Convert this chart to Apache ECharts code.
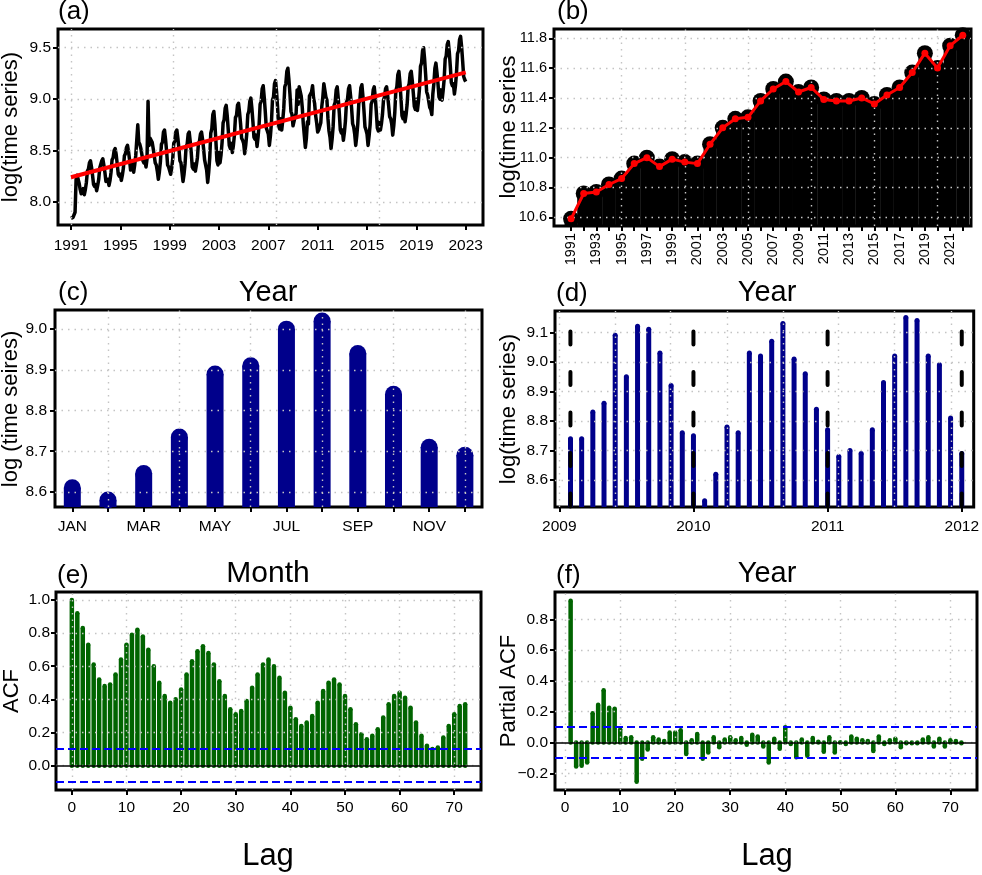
<!DOCTYPE html>
<html>
<head>
<meta charset="utf-8">
<script src="https://cdn.jsdelivr.net/npm/echarts@6.0.0/dist/echarts.min.js"></script>
<style>
  html, body { margin: 0; padding: 0; background: #fff; }
  #main { width: 982px; height: 875px; }
</style>
</head>
<body>
<div id="main"></div>
<script>
// (a) monthly log series, Jan 1991 .. Jan 2023
var monthlyStart = 1991;
var monthlyLog = [
  7.84, 7.84, 7.85, 7.86, 7.90, 8.22, 8.26, 8.25, 8.18, 8.12, 8.08, 8.10,
  8.13, 8.07, 8.12, 8.19, 8.30, 8.32, 8.38, 8.40, 8.34, 8.26, 8.17, 8.15,
  8.17, 8.11, 8.16, 8.22, 8.33, 8.34, 8.40, 8.42, 8.36, 8.29, 8.20, 8.19,
  8.22, 8.16, 8.21, 8.29, 8.41, 8.43, 8.50, 8.52, 8.46, 8.37, 8.27, 8.25,
  8.27, 8.21, 8.26, 8.33, 8.45, 8.47, 8.53, 8.55, 8.49, 8.41, 8.31, 8.30,
  8.37, 8.29, 8.36, 8.45, 8.60, 8.75, 8.58, 8.56, 8.52, 8.46, 8.40, 8.38,
  8.40, 8.34, 8.42, 8.98, 8.55, 8.62, 8.60, 8.58, 8.52, 8.45, 8.38, 8.36,
  8.30, 8.22, 8.29, 8.39, 8.56, 8.58, 8.68, 8.70, 8.61, 8.50, 8.36, 8.34,
  8.35, 8.27, 8.33, 8.42, 8.57, 8.59, 8.68, 8.70, 8.62, 8.52, 8.40, 8.38,
  8.29, 8.20, 8.27, 8.37, 8.54, 8.56, 8.66, 8.68, 8.59, 8.48, 8.34, 8.32,
  8.37, 8.30, 8.36, 8.43, 8.57, 8.59, 8.66, 8.68, 8.61, 8.52, 8.41, 8.40,
  8.31, 8.19, 8.29, 8.43, 8.67, 8.71, 8.85, 8.88, 8.76, 8.59, 8.40, 8.36,
  8.48, 8.38, 8.46, 8.58, 8.77, 8.80, 8.91, 8.94, 8.84, 8.70, 8.55, 8.52,
  8.57, 8.48, 8.55, 8.65, 8.82, 8.84, 8.94, 8.96, 8.87, 8.76, 8.62, 8.60,
  8.57, 8.47, 8.55, 8.66, 8.85, 8.88, 8.98, 9.01, 8.91, 8.78, 8.63, 8.61,
  8.65, 8.54, 8.63, 8.75, 8.95, 8.98, 9.10, 9.13, 9.02, 8.88, 8.72, 8.69,
  8.66, 8.55, 8.64, 8.77, 8.99, 9.02, 9.15, 9.18, 9.07, 8.92, 8.74, 8.71,
  8.81, 8.70, 8.79, 8.91, 9.12, 9.15, 9.27, 9.30, 9.19, 9.05, 8.88, 8.85,
  8.74, 8.74, 8.83, 8.86, 9.09, 8.95, 9.12, 9.11, 9.03, 8.92, 8.76, 8.75,
  8.53, 8.62, 8.78, 8.76, 9.03, 9.02, 9.07, 9.13, 9.01, 8.96, 8.84, 8.77,
  8.68, 8.70, 8.69, 8.77, 8.93, 9.02, 9.15, 9.14, 9.02, 8.99, 8.81, 8.69,
  8.63, 8.52, 8.61, 8.73, 8.94, 8.97, 9.09, 9.12, 9.01, 8.87, 8.70, 8.67,
  8.70, 8.60, 8.68, 8.79, 8.97, 9.00, 9.10, 9.13, 9.03, 8.91, 8.76, 8.73,
  8.66, 8.55, 8.64, 8.76, 8.96, 8.99, 9.11, 9.14, 9.03, 8.89, 8.73, 8.70,
  8.66, 8.55, 8.64, 8.75, 8.95, 8.98, 9.09, 9.12, 9.02, 8.88, 8.72, 8.69,
  8.78, 8.70, 8.76, 8.85, 8.99, 9.02, 9.10, 9.12, 9.04, 8.94, 8.83, 8.81,
  8.76, 8.65, 8.74, 8.87, 9.08, 9.12, 9.24, 9.27, 9.16, 9.01, 8.84, 8.81,
  8.87, 8.78, 8.85, 8.95, 9.12, 9.15, 9.25, 9.27, 9.18, 9.06, 8.93, 8.90,
  9.00, 8.89, 8.98, 9.10, 9.32, 9.35, 9.47, 9.50, 9.39, 9.24, 9.07, 9.04,
  8.98, 8.92, 8.90, 8.85, 9.05, 9.15, 9.30, 9.35, 9.26, 9.15, 9.02, 9.00,
  9.09, 8.99, 9.08, 9.19, 9.39, 9.42, 9.53, 9.56, 9.46, 9.32, 9.16, 9.13,
  9.15, 9.05, 9.13, 9.25, 9.44, 9.47, 9.58, 9.61, 9.51, 9.37, 9.22, 9.19,
  9.17
];
var trendYears = [1991, 2023];
var trendLog = [8.24, 9.26];
var aTicksX = [1991, 1995, 1999, 2003, 2007, 2011, 2015, 2019, 2023];
var aTicksY = [8.0, 8.5, 9.0, 9.5];
var aGridX = [1991, 1999.32, 2007.64, 2015.96];

// (b) annual log series
var annualYears = [1991, 1992, 1993, 1994, 1995, 1996, 1997, 1998, 1999, 2000, 2001,
  2002, 2003, 2004, 2005, 2006, 2007, 2008, 2009, 2010, 2011, 2012, 2013, 2014,
  2015, 2016, 2017, 2018, 2019, 2020, 2021, 2022];
var annualLog = [10.59, 10.76, 10.77, 10.82, 10.86, 10.96, 11.00, 10.94, 10.99, 10.97, 10.96,
  11.09, 11.20, 11.26, 11.27, 11.38, 11.46, 11.51, 11.44, 11.47, 11.39, 11.38, 11.38, 11.40,
  11.36, 11.42, 11.47, 11.57, 11.70, 11.60, 11.75, 11.82];
var bLabelsX = [1991, 1993, 1995, 1997, 1999, 2001, 2003, 2005, 2007, 2009, 2011, 2013, 2015, 2017, 2019, 2021];
var bTicksY = [10.6, 10.8, 11.0, 11.2, 11.4, 11.6, 11.8];
var bGridX = [1995, 2000, 2005, 2010, 2015, 2020];

// (c) monthly means
var monthNames = ['JAN', 'FEB', 'MAR', 'APR', 'MAY', 'JUN', 'JUL', 'AUG', 'SEP', 'OCT', 'NOV', 'DEC'];
var monthMeans = [8.61, 8.58, 8.645, 8.735, 8.89, 8.91, 9.00, 9.02, 8.94, 8.84, 8.71, 8.69];
var cTicksX = [1, 2, 3, 4, 5, 6, 7, 8, 9, 10, 11, 12];
var cLabelsX = [1, 3, 5, 7, 9, 11];
var cTicksY = [8.6, 8.7, 8.8, 8.9, 9.0];
var cGridX = [2, 4, 6, 8, 10, 12];

// (d) 2009-2011 window
var windowStart = 2009;
var windowLog = [
  8.74, 8.74, 8.83, 8.86, 9.09, 8.95, 9.12, 9.11, 9.03, 8.92, 8.76, 8.75,
  8.53, 8.62, 8.78, 8.76, 9.03, 9.02, 9.07, 9.13, 9.01, 8.96, 8.84, 8.77,
  8.68, 8.70, 8.69, 8.77, 8.93, 9.02, 9.15, 9.14, 9.02, 8.99, 8.81, 8.69
];
var seasonMarks = [2009.083, 2010, 2011, 2012];
var dTicksX = [2009, 2010, 2011, 2012];
var dTicksY = [8.6, 8.7, 8.8, 8.9, 9.0, 9.1];
var dGridX = [2009, 2009.417, 2009.833, 2010.25, 2010.667, 2011.083, 2011.5, 2011.917];

// (e) ACF, lags 0..72
var acfVals = [1.00, 0.92, 0.83, 0.73, 0.61, 0.52, 0.48, 0.49, 0.55, 0.64,
  0.73, 0.79, 0.82, 0.78, 0.70, 0.60, 0.50, 0.42, 0.38, 0.40,
  0.46, 0.55, 0.63, 0.69, 0.72, 0.68, 0.61, 0.51, 0.42, 0.34,
  0.31, 0.33, 0.39, 0.47, 0.55, 0.61, 0.64, 0.60, 0.53, 0.44,
  0.35, 0.28, 0.24, 0.26, 0.30, 0.38, 0.45, 0.50, 0.52, 0.49,
  0.42, 0.34, 0.25, 0.19, 0.16, 0.18, 0.22, 0.29, 0.37, 0.42,
  0.44, 0.41, 0.35, 0.26, 0.18, 0.12, 0.10, 0.11, 0.17, 0.24,
  0.31, 0.36, 0.37];
var eTicksY = [0.0, 0.2, 0.4, 0.6, 0.8, 1.0];

// (f) PACF, lags 1..72
var pacfVals = [0.92, -0.155, -0.15, -0.13, 0.19, 0.245, 0.34, 0.225, 0.22, 0.085,
  0.03, 0.035, -0.255, -0.105, -0.045, 0.035, 0.02, 0.01, 0.065, 0.065,
  0.08, -0.075, 0.015, 0.055, -0.105, -0.065, 0.035, -0.03, 0.02, 0.035,
  0.015, 0.03, -0.015, 0.05, 0.04, -0.025, -0.13, 0.025, -0.04, 0.10,
  -0.01, -0.095, 0.02, -0.085, 0.03, 0.005, -0.06, 0.035, -0.065, 0.0,
  -0.01, 0.04, 0.025, 0.015, 0.01, -0.055, 0.04, -0.01, 0.015, 0.025,
  -0.03, -0.005, -0.005, -0.005, 0.02, 0.035, -0.025, 0.025, -0.025, 0.015,
  0.01, -0.005];
var fTicksY = [-0.2, 0.0, 0.2, 0.4, 0.6, 0.8];
var lagTicks = [0, 10, 20, 30, 40, 50, 60, 70];
var ciBound = 0.1;

var FONT = "'Liberation Sans', Arial, Helvetica, sans-serif";
var NAVY = '#00008B', GREEN = '#006400';

var boxes = [
  {left: 58, top: 29, width: 425, height: 196},
  {left: 554, top: 29, width: 417, height: 197},
  {left: 55, top: 310, width: 427, height: 197},
  {left: 555, top: 311, width: 420, height: 196},
  {left: 56, top: 592, width: 425, height: 198},
  {left: 555, top: 592, width: 422, height: 198}
];

function fmt1(v) {
  var s = v.toFixed(1);
  return s.charAt(0) === '-' ? '\u2212' + s.slice(1) : s;
}

function makeAxis(idx, min, max, ticks, labels, formatter, opts) {
  opts = opts || {};
  return {
    type: 'value', gridIndex: idx, min: min, max: max,
    axisLine: {show: false, onZero: false},
    splitLine: {show: false},
    axisTick: {show: true, customValues: ticks, length: 5, inside: false,
      lineStyle: {color: '#000', width: 2}},
    axisLabel: {customValues: labels, formatter: formatter, color: '#000',
      fontFamily: FONT, fontSize: opts.fontSize || 15.5, margin: opts.margin || 8,
      rotate: opts.rotate || 0}
  };
}

function gridLines(idx, xs, ys, x0, y0) {
  return {
    type: 'line', xAxisIndex: idx, yAxisIndex: idx, data: [[x0, y0]],
    symbol: 'none', lineStyle: {width: 0}, silent: true, z: 3,
    markLine: {
      silent: true, symbol: ['none', 'none'], label: {show: false}, animation: false,
      lineStyle: {color: '#c4c4c4', width: 1.4, type: [1.5, 5]},
      data: xs.map(function (v) { return {xAxis: v}; })
        .concat(ys.map(function (v) { return {yAxis: v}; }))
    }
  };
}

function refLines(idx, x0, y0) {
  return {
    type: 'line', xAxisIndex: idx, yAxisIndex: idx, data: [[x0, y0]],
    symbol: 'none', lineStyle: {width: 0}, silent: true, z: 5,
    markLine: {
      silent: true, symbol: ['none', 'none'], label: {show: false}, animation: false,
      data: [
        {yAxis: 0, lineStyle: {color: '#000', width: 1.5, type: 'solid'}},
        {yAxis: ciBound, lineStyle: {color: '#0000FF', width: 2, type: [8, 4]}},
        {yAxis: -ciBound, lineStyle: {color: '#0000FF', width: 2, type: [8, 4]}}
      ]
    }
  };
}

// thick R-style "h" stems: a bar plus round caps
function stems(idx, pts, color, width, capSize, baseCaps) {
  var out = [
    {type: 'bar', xAxisIndex: idx, yAxisIndex: idx, data: pts, barWidth: width,
      itemStyle: {color: color}, silent: true, z: 2},
    {type: 'scatter', xAxisIndex: idx, yAxisIndex: idx, data: pts, symbol: 'circle',
      symbolSize: capSize, itemStyle: {color: color, opacity: 1}, silent: true, z: 2}
  ];
  if (baseCaps) {
    out.push({type: 'scatter', xAxisIndex: idx, yAxisIndex: idx,
      data: pts.map(function (p) { return [p[0], 0]; }), symbol: 'circle',
      symbolSize: capSize, itemStyle: {color: color, opacity: 1}, silent: true, z: 2});
  }
  return out;
}

var monthlyPts = monthlyLog.map(function (v, i) { return [monthlyStart + i / 12, v]; });
var trendPts = trendYears.map(function (x, i) { return [x, trendLog[i]]; });
var annualPts = annualYears.map(function (x, i) { return [x, annualLog[i]]; });
var monthPts = monthMeans.map(function (v, i) { return [i + 1, v]; });
var windowPts = windowLog.map(function (v, i) { return [windowStart + (i + 1) / 12, v]; });
var acfPts = acfVals.map(function (v, i) { return [i, v]; });
var pacfPts = pacfVals.map(function (v, i) { return [i + 1, v]; });

var intFmt = function (v) { return String(Math.round(v)); };

var xAxes = [
  makeAxis(0, 1989.95, 2024.4, aTicksX, aTicksX, intFmt, {margin: 13}),
  makeAxis(1, 1989.65, 2022.65, annualYears, bLabelsX, intFmt, {margin: 7, rotate: 90, fontSize: 14.5}),
  makeAxis(2, 0.515, 12.48, cTicksX, cLabelsX, function (v) { return monthNames[Math.round(v) - 1]; }, {margin: 12}),
  makeAxis(3, 2008.968, 2012.089, dTicksX, dTicksX, intFmt, {margin: 12}),
  makeAxis(4, -2.9, 74.9, lagTicks, lagTicks, intFmt, {margin: 10}),
  makeAxis(5, -1.84, 74.84, lagTicks, lagTicks, intFmt, {margin: 10})
];
var yAxes = [
  makeAxis(0, 7.776, 9.682, aTicksY, aTicksY, fmt1, {margin: 7}),
  makeAxis(1, 10.542, 11.862, bTicksY, bTicksY, fmt1, {margin: 7, fontSize: 14.5}),
  makeAxis(2, 8.563, 9.047, cTicksY, cTicksY, fmt1, {margin: 8}),
  makeAxis(3, 8.509, 9.172, dTicksY, dTicksY, fmt1, {margin: 7}),
  makeAxis(4, -0.147, 1.048, eTicksY, eTicksY, fmt1, {margin: 6}),
  makeAxis(5, -0.308, 0.977, fTicksY, fTicksY, fmt1, {margin: 7})
];

var series = [];
// (a)
series.push(gridLines(0, aGridX, aTicksY, 1991, 8));
series.push({type: 'line', xAxisIndex: 0, yAxisIndex: 0, data: monthlyPts, symbol: 'none',
  lineStyle: {color: '#000', width: 3.5, join: 'round'}, silent: true, z: 4});
series.push({type: 'line', xAxisIndex: 0, yAxisIndex: 0, data: trendPts, symbol: 'none',
  lineStyle: {color: '#FF0000', width: 4}, silent: true, z: 5});
// (b)
series.push(gridLines(1, bGridX, bTicksY, 1991, 10.6));
stems(1, annualPts, '#000', 13, 16, false).forEach(function (s) { series.push(s); });
series.push({type: 'line', xAxisIndex: 1, yAxisIndex: 1, data: annualPts, symbol: 'circle',
  symbolSize: 7, showSymbol: true, itemStyle: {color: '#FF0000', opacity: 1},
  lineStyle: {color: '#FF0000', width: 3}, silent: true, z: 5});
// (c)
series.push(gridLines(2, cGridX, cTicksY, 1, 8.6));
stems(2, monthPts, NAVY, 17, 17, false).forEach(function (s) { series.push(s); });
// (d)
series.push(gridLines(3, dGridX, dTicksY, 2009, 8.6));
stems(3, windowPts, NAVY, 5, 5, false).forEach(function (s) { series.push(s); });
seasonMarks.forEach(function (x) {
  series.push({type: 'line', xAxisIndex: 3, yAxisIndex: 3, data: [[x, 9.103], [x, 8.509]],
    symbol: 'none', lineStyle: {color: '#000', width: 4, type: [13, 27.5], cap: 'round'},
    silent: true, z: 6});
});
// (e)
series.push(gridLines(4, lagTicks, eTicksY, 0, 0));
stems(4, acfPts, GREEN, 4.5, 4.5, true).forEach(function (s) { series.push(s); });
series.push(refLines(4, 0, 0));
// (f)
series.push(gridLines(5, lagTicks, fTicksY, 0, 0));
stems(5, pacfPts, GREEN, 4.5, 4.5, true).forEach(function (s) { series.push(s); });
series.push(refLines(5, 0, 0));

function label(text, x, y, size, align, rotate) {
  return {
    type: 'text', x: x, y: y, rotation: rotate ? Math.PI / 2 : 0, silent: true, z: 10,
    style: {text: text, fill: '#000', fontSize: size, fontFamily: FONT,
      align: align || 'left', verticalAlign: 'middle',
      textAlign: align || 'left', textVerticalAlign: 'middle'}
  };
}

var texts = [
  label('(a)', 58, 11.5, 26), label('(b)', 557, 12, 26),
  label('(c)', 58, 292.5, 26), label('(d)', 556, 293.5, 26),
  label('(e)', 57, 575.5, 26), label('(f)', 556, 575.5, 26),
  label('Year', 268, 292.7, 29, 'center'), label('Year', 767, 292.7, 29, 'center'),
  label('Month', 268, 573.6, 30, 'center'), label('Year', 767, 574, 29, 'center'),
  label('Lag', 268, 856, 31, 'center'), label('Lag', 767, 856, 31, 'center'),
  label('log(time series)', 11, 127, 22, 'center', true),
  label('log(time series', 509, 127, 22, 'center', true),
  label('log (time seires)', 11, 409, 22, 'center', true),
  label('log(time series)', 509, 409, 22, 'center', true),
  label('ACF', 11.5, 691, 22, 'center', true),
  label('Partial ACF', 509, 691, 22, 'center', true)
];

var chart = echarts.init(document.getElementById('main'));
chart.setOption({
  backgroundColor: '#fff',
  animation: false,
  grid: boxes.map(function (b) {
    return {left: b.left, top: b.top, width: b.width, height: b.height,
      show: true, borderColor: '#000', borderWidth: 3, backgroundColor: 'transparent',
      containLabel: false};
  }),
  xAxis: xAxes,
  yAxis: yAxes,
  series: series,
  graphic: texts
});
</script>
</body>
</html>
